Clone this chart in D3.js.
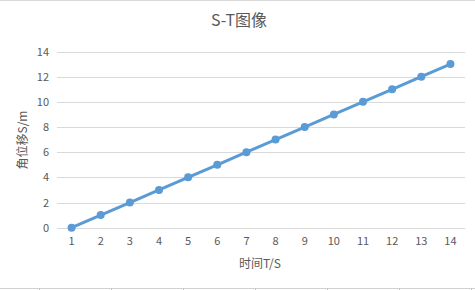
<!DOCTYPE html>
<html><head><meta charset="utf-8">
<script src="https://cdn.jsdelivr.net/npm/d3@7"></script>
<style>body{margin:0;background:#fff}svg{display:block}text{font-family:"Noto Sans CJK SC","Noto Sans",sans-serif;}</style>
</head><body>
<svg id="c" width="475" height="290"></svg>
<script>
const categories = [1,2,3,4,5,6,7,8,9,10,11,12,13,14];
const values = [0,1,2,3,4,5,6,7,8,9,10,11,12,13];
const yTicks = [0,2,4,6,8,10,12,14];
const title = "S-T图像";
const xTitle = "时间T/S";
const yTitle = "角位移S/m";

const svg = d3.select("#c");
const W = 475, H = 290;
const m = {l:57, r:10, t:51.5, b:62.3};
const x = d3.scaleBand().domain(categories).range([m.l, W - m.r]);
const y = d3.scaleLinear().domain([0,14]).range([H - m.b, m.t]);
const txt = "#595959";

// sheet border lines
svg.append("line").attr("x1",0).attr("x2",W).attr("y1",0.5).attr("y2",0.5).attr("stroke","#d9d9d9");
svg.append("line").attr("x1",0).attr("x2",W).attr("y1",288.5).attr("y2",288.5).attr("stroke","#d0d0d0");
[39,111,183,255,327,399,471].forEach(v=>svg.append("line").attr("x1",v+0.5).attr("x2",v+0.5).attr("y1",289).attr("y2",290).attr("stroke","#bbb"));

// gridlines
svg.append("g").selectAll("line").data(yTicks).join("line")
  .attr("x1", m.l).attr("x2", W - m.r)
  .attr("y1", d => Math.round(y(d)) + 0.5).attr("y2", d => Math.round(y(d)) + 0.5)
  .attr("stroke", "#d9d9d9").attr("stroke-width", 1);

// y axis labels
const ya = svg.append("g").attr("transform", `translate(${m.l},0)`)
  .call(d3.axisLeft(y).tickValues(yTicks).tickSize(0).tickPadding(8));
ya.select(".domain").remove();
ya.selectAll("text").attr("fill", txt).attr("font-size", 11).attr("font-family","Noto Sans CJK SC, sans-serif");

// x axis labels
const xa = svg.append("g").attr("transform", `translate(0,${H - m.b})`)
  .call(d3.axisBottom(x).tickSize(0).tickPadding(10));
xa.select(".domain").remove();
xa.selectAll("text").attr("fill", txt).attr("font-size", 11).attr("font-family","Noto Sans CJK SC, sans-serif");

// line
const cx = d => x(d) + x.bandwidth()/2;
const data = categories.map((c,i)=>({c, v: values[i]}));
svg.append("path").datum(data)
  .attr("fill","none").attr("stroke","#5B9BD5").attr("stroke-width",3).attr("stroke-linejoin","round")
  .attr("d", d3.line().x(d=>cx(d.c)).y(d=>y(d.v)));
svg.append("g").selectAll("circle").data(data).join("circle")
  .attr("cx", d=>cx(d.c)).attr("cy", d=>y(d.v)).attr("r", 4).attr("fill","#5B9BD5");

// titles
svg.append("text").attr("x", 239).attr("y", 26).attr("text-anchor","middle")
  .attr("font-size", 16).attr("fill", txt).text(title);
svg.append("text").attr("x", 260).attr("y", 268).attr("text-anchor","middle")
  .attr("font-size", 12).attr("fill", txt).text(xTitle);
svg.append("text").attr("transform","translate(27,140) rotate(-90)").attr("text-anchor","middle")
  .attr("font-size", 12).attr("fill", txt).text(yTitle);
</script>
</body></html>
